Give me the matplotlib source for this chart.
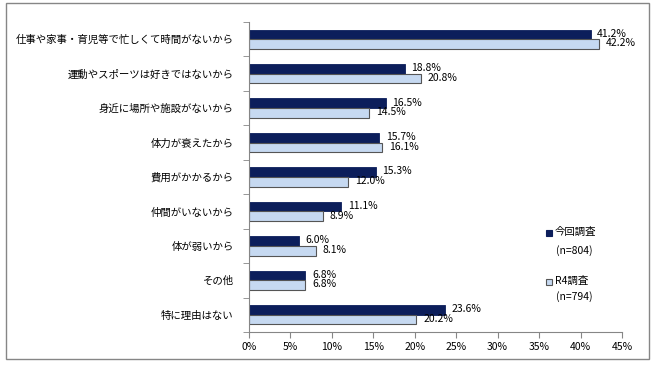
import matplotlib.pyplot as plt
import numpy as np
from matplotlib.patches import Rectangle

plt.rcParams['font.family'] = ['Noto Sans CJK JP', 'DejaVu Sans']

categories = ['仕事や家事・育児等で忙しくて時間がないから', '運動やスポーツは好きではないから',
              '身近に場所や施設がないから', '体力が衰えたから', '費用がかかるから',
              '仲間がいないから', '体が弱いから', 'その他', '特に理由はない']
current = [41.2, 18.8, 16.5, 15.7, 15.3, 11.1, 6.0, 6.8, 23.6]
previous = [42.2, 20.8, 14.5, 16.1, 12.0, 8.9, 8.1, 6.8, 20.2]
xticks = [0, 5, 10, 15, 20, 25, 30, 35, 40, 45]

dark = '#0c1e5b'
light = '#c6d9f1'
grey = '#868686'

fig = plt.figure(figsize=(6.57, 3.69), dpi=100)
fig.patches.append(Rectangle((6 / 657, 1 - 359 / 369), 643 / 657, 356 / 369,
                             transform=fig.transFigure, fill=False, edgecolor=grey, lw=1))
ax = fig.add_axes([249 / 657, 1 - 332 / 369, 373 / 657, 310 / 369])

n = len(categories)
y = np.arange(n)
h = 0.28
ax.barh(y - h / 2, current, height=h, color=dark, edgecolor=dark, lw=0.6)
ax.barh(y + h / 2, previous, height=h, color=light, edgecolor='#555555', lw=0.8)

for i in range(n):
    ax.text(current[i] + 0.8, y[i] - h / 2 - 0.02, f'{current[i]:.1f}%', va='center', ha='left', fontsize=7.5)
    ax.text(previous[i] + 0.8, y[i] + h / 2 - 0.02, f'{previous[i]:.1f}%', va='center', ha='left', fontsize=7.5)

ax.set_ylim(n - 0.5, -0.5)
ax.set_xlim(0, 45)
ax.set_xticks(xticks)
ax.set_xticklabels([f'{v}%' for v in xticks], fontsize=7.5)
ax.set_yticks(y)
ax.set_yticklabels(categories, fontsize=7.5)
ax.tick_params(axis='y', length=0, pad=11)
ax.set_yticks(np.arange(-0.5, n, 1), minor=True)
ax.tick_params(axis='y', which='minor', length=4, color=grey)
ax.tick_params(axis='x', length=4, color=grey, pad=3)
for s in ['top', 'right']:
    ax.spines[s].set_visible(False)
for s in ['left', 'bottom']:
    ax.spines[s].set_color(grey)

# legend
fig.patches.append(Rectangle((546 / 657, 1 - 236 / 369), 6 / 657, 6 / 369, transform=fig.transFigure,
                             facecolor=dark, edgecolor=dark, lw=0.8))
fig.text(555 / 657, 1 - 232 / 369, '今回調査', fontsize=7.5, va='center', ha='left')
fig.text(556 / 657, 1 - 251 / 369, '(n=804)', fontsize=7.5, va='center', ha='left')
fig.patches.append(Rectangle((546 / 657, 1 - 285 / 369), 6 / 657, 6 / 369, transform=fig.transFigure,
                             facecolor=light, edgecolor='#555555', lw=0.8))
fig.text(555 / 657, 1 - 281 / 369, 'R4調査', fontsize=7.5, va='center', ha='left')
fig.text(556 / 657, 1 - 297 / 369, '(n=794)', fontsize=7.5, va='center', ha='left')

fig.savefig('out.png', dpi=100)
